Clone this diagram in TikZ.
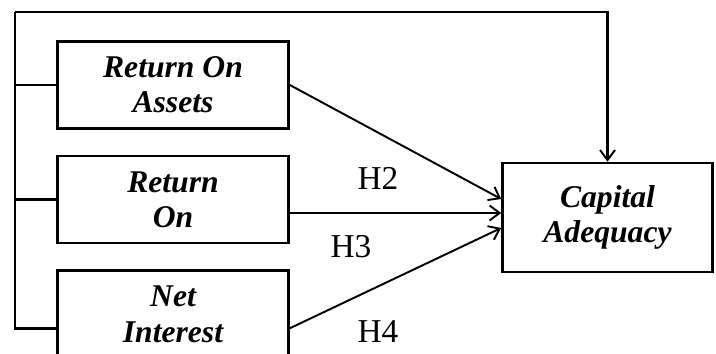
\documentclass[tikz,border=0pt]{standalone}
\usepackage{fontspec}
\setmainfont{Liberation Serif}
\usetikzlibrary{positioning,arrows.meta}

\begin{document}
\begin{tikzpicture}[
	varbox/.style={draw, line width=1.5pt, minimum width=4.62cm, minimum height=1.74cm,
		inner sep=0pt, align=center, font=\fontsize{18}{20}\selectfont\bfseries\itshape},
	link/.style={line width=1.1pt, -{Straight Barb[length=0.2cm,width=0.3cm,line width=1.1pt]}},
	frame/.style={line width=1.6pt},
	hyp/.style={font=\fontsize{19}{21}\selectfont}
	]
	\useasboundingbox (0,0) rectangle (14.32,7.08);
	%% independent variables
	\node[varbox] (roa) at (3.46,5.38) {Return On\\Assets};
	\node[varbox, below =0.5cm of roa] (roe) {Return\\On};
	\node[varbox, below =0.5cm of roe] (nim) {Net\\Interest};
	%% dependent variable
	\node[varbox, minimum width=4.2cm, minimum height=2.18cm] (car) at (12.15,2.73) {Capital\\Adequacy};
	%% corner of the outer line
	\coordinate (corner) at (0.3,6.84);
	% outer line round the boxes
	\draw[frame] ([yshift=-0.28cm]nim.west) -| (corner);
	\draw[frame] (roa.west) -- (roa.west -| corner);
	\draw[frame] (roe.west) -- (roe.west -| corner);
	\draw[link, line width=1.6pt] (corner) -| (car.north);
	% hypotheses
	\draw[link] (roa.east) -- ([yshift=0.37cm]car.west);
	\draw[link] ([yshift=0.09cm]car.west -| roe.east) -- ([yshift=0.09cm]car.west);
	\draw[link] ([yshift=-0.28cm]nim.east) -- ([yshift=-0.21cm]car.west);
	\node[hyp] (h2) at (7.56,3.52) {H2};
	\node[hyp] (h3) at (7.02,2.14) {H3};
	\node[hyp] (h4) at (7.56,0.44) {H4};
\end{tikzpicture}
\end{document}
